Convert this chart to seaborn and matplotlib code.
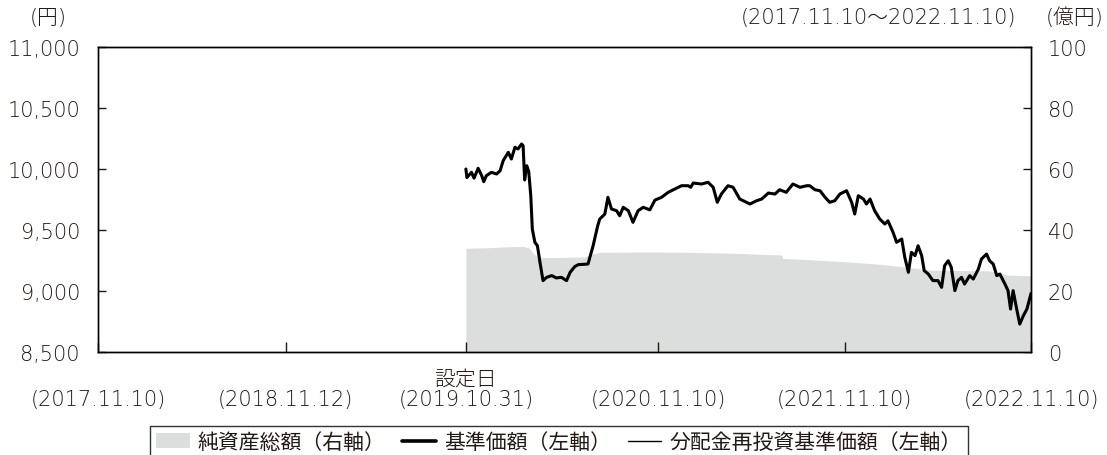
import pandas as pd
import numpy as np
import matplotlib
matplotlib.use("Agg")
import matplotlib.pyplot as plt
from matplotlib.patches import Patch
from matplotlib.lines import Line2D
import seaborn as sns

# 基準価額 (円)
nav_dates = [
    "2019-10-31", "2019-11-02", "2019-11-11", "2019-11-16", "2019-11-24", "2019-12-01",
    "2019-12-05", "2019-12-10", "2019-12-20", "2019-12-30", "2020-01-06", "2020-01-12",
    "2020-01-22", "2020-01-28", "2020-02-04", "2020-02-10", "2020-02-17", "2020-02-20",
    "2020-02-23", "2020-02-27", "2020-03-02", "2020-03-06", "2020-03-09", "2020-03-14",
    "2020-03-19", "2020-03-24", "2020-03-30", "2020-04-06", "2020-04-16", "2020-04-25",
    "2020-05-05", "2020-05-15", "2020-05-22", "2020-05-31", "2020-06-07", "2020-06-26",
    "2020-07-06", "2020-07-15", "2020-07-19", "2020-07-29", "2020-08-04", "2020-08-11",
    "2020-08-21", "2020-08-27", "2020-09-03", "2020-09-13", "2020-09-22", "2020-10-02",
    "2020-10-12", "2020-10-25", "2020-11-04", "2020-11-17", "2020-11-30", "2020-12-13",
    "2020-12-26", "2021-01-08", "2021-01-13", "2021-01-18", "2021-02-03", "2021-02-16",
    "2021-02-26", "2021-03-06", "2021-03-14", "2021-03-27", "2021-04-06", "2021-04-19",
    "2021-05-09", "2021-05-22", "2021-06-01", "2021-06-14", "2021-06-27", "2021-07-06",
    "2021-07-19", "2021-08-01", "2021-08-15", "2021-08-28", "2021-09-03", "2021-09-13",
    "2021-09-23", "2021-10-03", "2021-10-12", "2021-10-22", "2021-11-01", "2021-11-14",
    "2021-11-24", "2021-11-30", "2021-12-07", "2021-12-17", "2021-12-23", "2021-12-30",
    "2022-01-08", "2022-01-18", "2022-01-28", "2022-02-03", "2022-02-13", "2022-02-20",
    "2022-03-02", "2022-03-08", "2022-03-15", "2022-03-21", "2022-03-28", "2022-04-03",
    "2022-04-10", "2022-04-15", "2022-04-23", "2022-05-02", "2022-05-12", "2022-05-19",
    "2022-05-25", "2022-06-01", "2022-06-07", "2022-06-14", "2022-06-20", "2022-06-27",
    "2022-07-03", "2022-07-13", "2022-07-20", "2022-07-30", "2022-08-05", "2022-08-15",
    "2022-08-21", "2022-08-28", "2022-09-04", "2022-09-10", "2022-09-20", "2022-09-26",
    "2022-10-01", "2022-10-06", "2022-10-13", "2022-10-19", "2022-10-26", "2022-11-02",
    "2022-11-08", "2022-11-10",
]
nav_values = [
    10000, 9930, 9973, 9925, 10006, 9945,
    9896, 9945, 9973, 9959, 9986, 10068,
    10137, 10082, 10178, 10164, 10205, 10191,
    9910, 10027, 9980, 9781, 9508, 9399,
    9371, 9235, 9085, 9112, 9126, 9107,
    9112, 9085, 9153, 9200, 9216, 9221,
    9371, 9535, 9590, 9631, 9768, 9672,
    9658, 9617, 9686, 9658, 9563, 9658,
    9686, 9665, 9745, 9768, 9809, 9836,
    9863, 9863, 9850, 9885, 9877, 9891,
    9850, 9727, 9795, 9863, 9850, 9754,
    9713, 9740, 9754, 9803, 9795, 9830,
    9809, 9877, 9850, 9863, 9863, 9830,
    9822, 9768, 9727, 9740, 9795, 9822,
    9727, 9631, 9781, 9754, 9713, 9754,
    9658, 9590, 9549, 9576, 9481, 9399,
    9426, 9276, 9153, 9317, 9290, 9371,
    9290, 9167, 9139, 9085, 9085, 9030,
    9208, 9248, 9194, 9003, 9085, 9112,
    9057, 9126, 9098, 9180, 9262, 9303,
    9248, 9221, 9126, 9139, 9057, 9003,
    8852, 9003, 8852, 8729, 8797, 8852,
    8948, 8980,
]

# 純資産総額 (億円)
aum_dates = [
    "2019-10-31", "2019-12-15", "2020-01-20", "2020-02-20", "2020-03-02", "2020-03-10",
    "2020-03-20", "2020-05-01", "2020-06-20", "2020-07-06", "2020-07-20", "2020-11-01",
    "2021-01-01", "2021-04-01", "2021-07-10", "2021-07-12", "2021-09-10", "2021-11-10",
    "2022-01-01", "2022-02-10", "2022-03-20", "2022-05-01", "2022-08-20", "2022-09-10",
    "2022-09-25", "2022-11-10",
]
aum_values = [
    34.0, 34.2, 34.5, 34.6, 34.2, 32.5,
    31.0, 31.0, 31.2, 32.2, 32.7, 32.8,
    32.7, 32.4, 31.8, 30.7, 30.2, 29.6,
    29.0, 28.4, 27.6, 26.8, 26.6, 26.0,
    25.2, 25.0,
]

tick_dates = ["2017-11-10", "2018-11-12", "2019-10-31", "2020-11-10", "2021-11-10", "2022-11-10"]
tick_labels = ["\n(2017.11.10)", "\n(2018.11.12)", "設定日\n(2019.10.31)",
               "\n(2020.11.10)", "\n(2021.11.10)", "\n(2022.11.10)"]
left_ticks = [8500, 9000, 9500, 10000, 10500, 11000]
right_ticks = [0, 20, 40, 60, 80, 100]

nav = pd.DataFrame({"date": pd.to_datetime(nav_dates), "nav": nav_values})
aum = pd.DataFrame({"date": pd.to_datetime(aum_dates), "aum": aum_values})

sns.set_style("ticks")
plt.rcParams["font.family"] = ["DejaVu Sans", "Noto Sans CJK JP"]
plt.rcParams["font.size"] = 15
txt = "#231815"

fig = plt.figure(figsize=(11.07, 4.56), dpi=100)
ax = fig.add_axes([98 / 1107, 1 - 353 / 456, (1031 - 98) / 1107, (353 - 48) / 456])
ax2 = ax.twinx()

grey = "#dcdddd"
ax2.fill_between(aum["date"], 0, aum["aum"], color=grey, linewidth=0)
ax2.set_ylim(0, 100)
ax2.set_yticks(right_ticks)
ax2.set_yticklabels([f"{v}" for v in right_ticks], fontweight="light")

# 分配金再投資基準価額 equals the NAV here (no distributions): thin line under the thick one
sns.lineplot(data=nav, x="date", y="nav", ax=ax, color="black", linewidth=1.0)
sns.lineplot(data=nav, x="date", y="nav", ax=ax, color="black", linewidth=2.2)
ax.set_zorder(ax2.get_zorder() + 1)
ax.patch.set_visible(False)

ax.set_xlim(pd.Timestamp("2017-11-10"), pd.Timestamp("2022-11-10"))
ax.set_ylim(8500, 11000)
ax.set_yticks(left_ticks)
ax.set_yticklabels([f"{v:,}" for v in left_ticks], fontweight="light")
ax.set_xticks(pd.to_datetime(tick_dates))
ax.set_xticklabels(tick_labels, linespacing=1.05, fontweight="light")
ax.set_xlabel("")
ax.set_ylabel("")

for a in (ax, ax2):
    for s in a.spines.values():
        s.set_linewidth(1.0)
        s.set_color("black")
ax.tick_params(axis="y", direction="in", length=6, width=1, pad=13, labelsize=15, colors=txt)
ax.tick_params(axis="x", direction="in", length=7, width=1, pad=12, labelsize=15, colors=txt)
ax2.tick_params(axis="y", direction="in", length=6, width=1, pad=12, labelsize=15, colors=txt)

fig.text(48 / 1107, 1 - 18 / 456, "(円)", ha="center", va="center", fontsize=15,
         color=txt, fontweight="light")
fig.text(1075 / 1107, 1 - 18 / 456, "(億円)", ha="center", va="center", fontsize=15,
         color=txt, fontweight="light")
fig.text(1016 / 1107, 1 - 18 / 456, "(2017.11.10～2022.11.10)", ha="right", va="center",
         fontsize=15, color=txt, fontweight="light")

handles = [
    Patch(facecolor=grey, edgecolor="none"),
    Line2D([], [], color="black", linewidth=2.6),
    Line2D([], [], color="black", linewidth=1.0),
]
labels = ["純資産総額（右軸）", "基準価額（左軸）", "分配金再投資基準価額（左軸）"]
leg = fig.legend(handles, labels, loc="lower center", bbox_to_anchor=(559 / 1107, -0.03),
                 ncol=3, frameon=True, fancybox=False, fontsize=15, handlelength=1.6,
                 handletextpad=0.4, columnspacing=0.8, borderpad=0.3)
leg.get_frame().set_edgecolor("black")
leg.get_frame().set_linewidth(1.0)
for t in leg.get_texts():
    t.set_color(txt)

fig.savefig("out.png", dpi=100)
